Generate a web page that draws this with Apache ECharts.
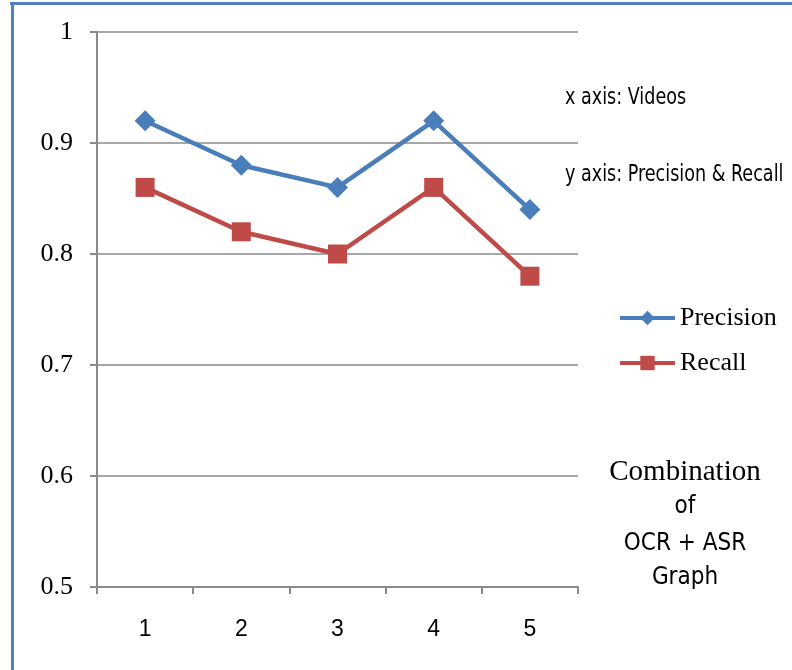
<!DOCTYPE html>
<html>
<head>
<meta charset="utf-8">
<script src="https://cdn.jsdelivr.net/npm/echarts@6/dist/echarts.min.js"></script>
<style>
html,body{margin:0;padding:0;background:#fff;}
#chart{width:792px;height:670px;}
</style>
</head>
<body>
<div id="chart"></div>
<script>
const categories = ['1', '2', '3', '4', '5'];
const precision = [0.92, 0.88, 0.86, 0.92, 0.84];
const recall = [0.86, 0.82, 0.80, 0.86, 0.78];
const seriesNames = ['Precision', 'Recall'];
const noteLines = ['x axis: Videos', 'y axis: Precision & Recall'];
const titleLines = ['Combination', 'of', 'OCR + ASR', 'Graph'];

const chart = echarts.init(document.getElementById('chart'), null, {renderer: 'canvas'});
const axisGray = '#8a8a8a';
const narrow = '"Liberation Sans Narrow", "DejaVu Sans Condensed", "Liberation Sans", sans-serif';
const serif = '"Liberation Serif", "Times New Roman", serif';
const sans = '"Liberation Sans", "Noto Sans", sans-serif';
const blue = '#4a7ebb';
const red = '#be4b48';

chart.setOption({
  animation: false,
  backgroundColor: '#fff',
  grid: {left: 97, right: 214, top: 32, bottom: 83, containLabel: false},
  xAxis: {
    type: 'category',
    data: categories,
    boundaryGap: true,
    axisLine: {lineStyle: {color: axisGray, width: 2}},
    axisTick: {show: true, length: 7, lineStyle: {color: axisGray, width: 2}},
    axisLabel: {color: '#000', fontFamily: sans, fontSize: 23, margin: 31}
  },
  yAxis: {
    type: 'value',
    min: 0.5,
    max: 1,
    interval: 0.1,
    axisLine: {show: true, lineStyle: {color: axisGray, width: 2}},
    axisTick: {show: true, length: 7, lineStyle: {color: axisGray, width: 2}},
    splitLine: {show: true, lineStyle: {color: axisGray, width: 1.5}},
    axisLabel: {
      color: '#000', fontFamily: serif, fontSize: 26, margin: 24,
      formatter: v => String(Number(v.toFixed(1)))
    }
  },
  legend: {
    orient: 'vertical',
    left: 613,
    top: 300,
    itemWidth: 55,
    itemHeight: 18,
    itemGap: 19,
    lineStyle: {width: 4},
    textStyle: {fontFamily: serif, fontSize: 26, color: '#000'},
    data: seriesNames
  },
  series: [
    {
      name: seriesNames[0], type: 'line', data: precision,
      symbol: 'diamond', symbolSize: 21,
      lineStyle: {color: blue, width: 4.5},
      itemStyle: {color: blue}
    },
    {
      name: seriesNames[1], type: 'line', data: recall,
      symbol: 'rect', symbolSize: 19,
      lineStyle: {color: red, width: 4.5},
      itemStyle: {color: red}
    }
  ],
  graphic: [
    {type: 'rect', shape: {x: 10, y: 2, width: 782, height: 3}, style: {fill: '#4f81bd'}},
    {type: 'rect', shape: {x: 11, y: 2, width: 3, height: 668}, style: {fill: '#4f81bd'}},
    {type: 'text', x: 565, y: 98, scaleX: 0.85, style: {text: noteLines[0], font: '23px ' + narrow, fill: '#000', textVerticalAlign: 'middle'}},
    {type: 'text', x: 565, y: 175, scaleX: 0.85, style: {text: noteLines[1], font: '23px ' + narrow, fill: '#000', textVerticalAlign: 'middle'}},
    {type: 'text', x: 685, y: 472, style: {text: titleLines[0], font: '29px ' + serif, fill: '#000', textAlign: 'center', textVerticalAlign: 'middle'}},
    {type: 'text', x: 685, y: 507, style: {text: titleLines[1], font: '24px ' + narrow, fill: '#000', textAlign: 'center', textVerticalAlign: 'middle'}},
    {type: 'text', x: 685, y: 544, style: {text: titleLines[2], font: '24px ' + narrow, fill: '#000', textAlign: 'center', textVerticalAlign: 'middle'}},
    {type: 'text', x: 685, y: 578, style: {text: titleLines[3], font: '24px ' + narrow, fill: '#000', textAlign: 'center', textVerticalAlign: 'middle'}}
  ]
});
</script>
</body>
</html>
